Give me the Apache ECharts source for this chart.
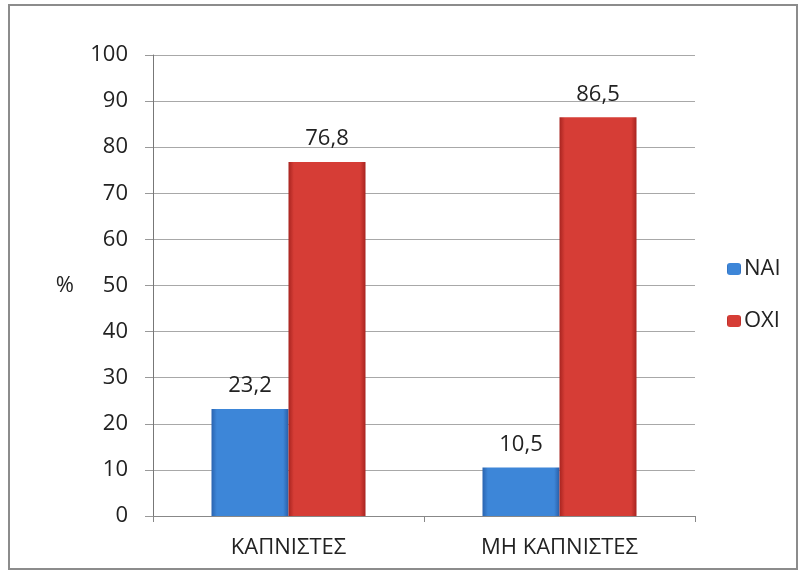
<!DOCTYPE html>
<html><head><meta charset="utf-8">
<script src="https://cdn.jsdelivr.net/npm/echarts@6/dist/echarts.min.js"></script>
<style>
html,body{margin:0;padding:0;background:#fff;}
#frame{position:absolute;left:8px;top:4px;width:790px;height:566px;border:2px solid #8c8c8c;box-sizing:border-box;}
#c{position:absolute;left:0;top:0;width:802px;height:575px;}
</style></head>
<body>
<div id="frame"></div>
<div id="c"></div>
<script>
const categories = ['ΚΑΠΝΙΣΤΕΣ', 'ΜΗ ΚΑΠΝΙΣΤΕΣ'];
const seriesNames = ['ΝΑΙ', 'ΟΧΙ'];
const naiValues = [23.2, 10.5];
const oxiValues = [76.8, 86.5];
const yTicks = [0, 100, 10];

function grad(c1, c2, c3) {
  return new echarts.graphic.LinearGradient(0, 0, 1, 0, [
    {offset: 0, color: c1}, {offset: 0.07, color: c2}, {offset: 0.93, color: c2}, {offset: 1, color: c3}
  ]);
}
const fontFam = '"Open Sans", "Liberation Sans", sans-serif';
const FS = 22;
const chart = echarts.init(document.getElementById('c'), null, {renderer: 'canvas'});
const labelFmt = p => String(p.value).replace('.', ',');
chart.setOption({
  animation: false,
  grid: {left: 153, right: 107, top: 55, bottom: 59},
  legend: {
    orient: 'vertical', left: 722, top: 253, itemWidth: 14, itemHeight: 12, itemGap: 30,
    textStyle: {fontFamily: fontFam, fontSize: FS, color: '#222', padding: [0, 0, 0, -2]},
    data: seriesNames
  },
  xAxis: {
    type: 'category', data: categories,
    axisLine: {lineStyle: {color: '#888'}},
    axisTick: {show: true, length: 6, lineStyle: {color: '#888'}},
    axisLabel: {fontFamily: fontFam, fontSize: FS, color: '#222', margin: 21}
  },
  yAxis: {
    type: 'value', min: yTicks[0], max: yTicks[1], interval: yTicks[2],
    name: '%', nameLocation: 'middle', nameRotate: 0, nameGap: 79,
    nameTextStyle: {fontFamily: fontFam, fontSize: FS, color: '#222'},
    axisLine: {show: true, lineStyle: {color: '#777'}},
    axisTick: {show: true, length: 8, inside: false, lineStyle: {color: '#999'}},
    axisLabel: {fontFamily: fontFam, fontSize: FS, color: '#222', margin: 25},
    splitLine: {lineStyle: {color: '#a8a8a8'}}
  },
  series: [
    {name: seriesNames[0], type: 'bar', data: naiValues, barWidth: 77, barGap: '0%',
     itemStyle: {color: grad('#2a64b0', '#3d86d8', '#2a5fa8')},
     label: {show: true, position: 'top', distance: 12, formatter: labelFmt, fontFamily: fontFam, fontSize: FS, color: '#222'}},
    {name: seriesNames[1], type: 'bar', data: oxiValues, barWidth: 77,
     itemStyle: {color: grad('#a82420', '#d63d36', '#a82420')},
     label: {show: true, position: 'top', distance: 12, formatter: labelFmt, fontFamily: fontFam, fontSize: FS, color: '#222'}}
  ]
});
</script>
</body></html>
